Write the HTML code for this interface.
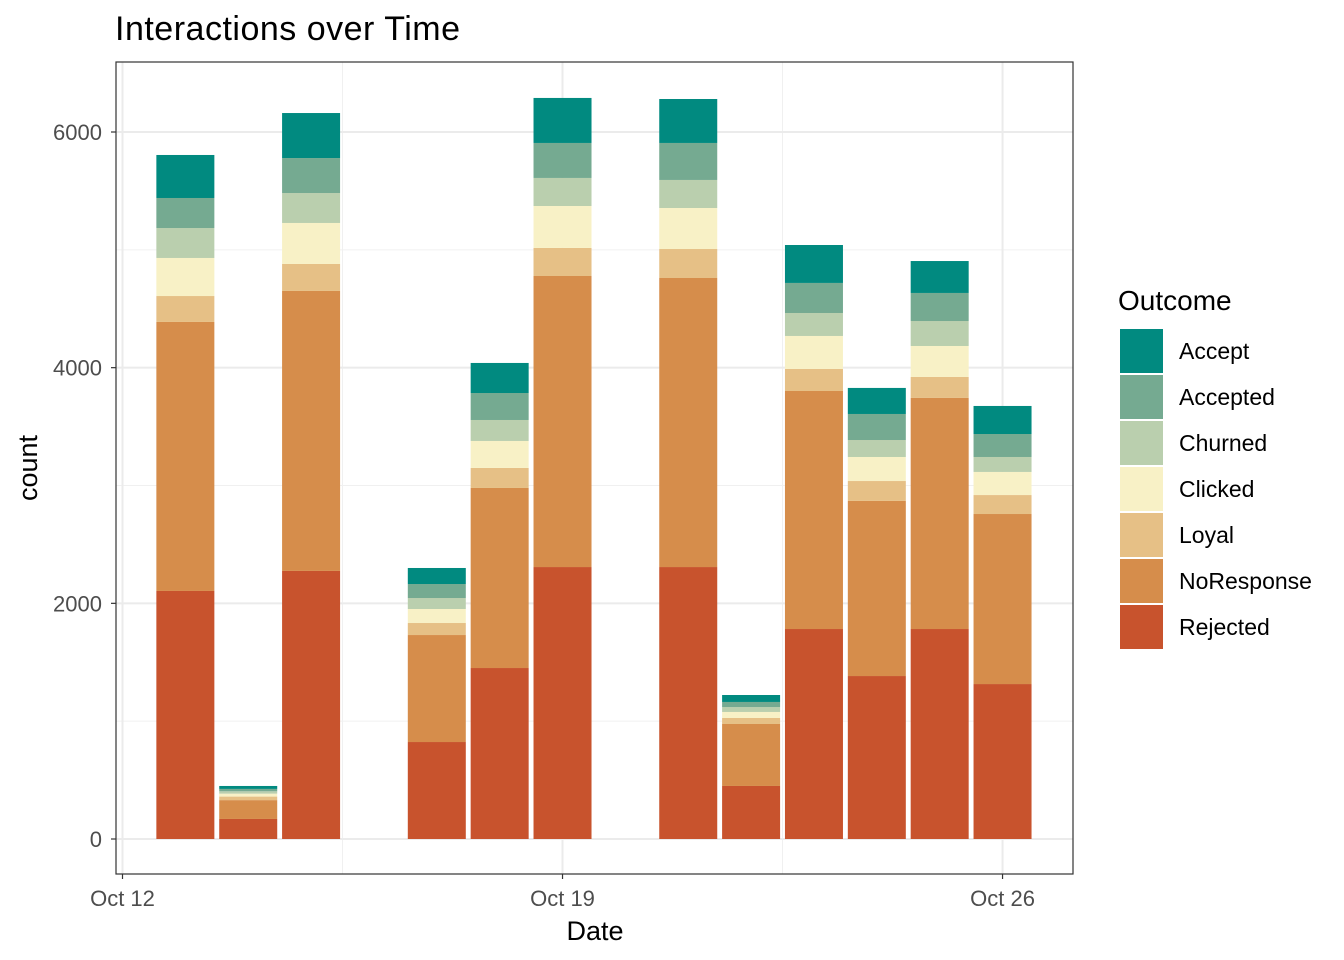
<!DOCTYPE html>
<html><head><meta charset="utf-8"><style>
body{margin:0;background:#fff;}
svg{display:block;font-family:"Liberation Sans",sans-serif;}
</style></head><body>
<svg id="chart" width="1344" height="960">
<rect width="1344" height="960" fill="#fff"/>
<text x="115" y="40" font-size="34" textLength="345" fill="#000">Interactions over Time</text>
<g id="grid"></g>
<g id="bars"></g>
<rect x="116" y="62" width="957" height="812" fill="none" stroke="#333" stroke-width="1.2"/>
<g id="axes"></g>
<text x="595" y="940" font-size="27" text-anchor="middle">Date</text>
<text transform="translate(37,468) rotate(-90)" font-size="27" text-anchor="middle">count</text>
<g id="legend"></g>
</svg>
<script>
const days = [13,14,15,17,18,19,21,22,23,24,25,26];
const outcomes = ["Rejected","NoResponse","Loyal","Clicked","Churned","Accepted","Accept"];
const rejected   = [2105,170,2275,823,1451,2308,2308,450,1782,1383,1782,1315];
const noResponse = [2283,160,2376,908,1528,2470,2453,526,2020,1486,1961,1443];
const loyal      = [220,30,229,102,170,238,246,51,187,169,178,161];
const clicked    = [323,25,348,119,229,356,348,51,280,204,263,196];
const churned    = [254,20,254,93,178,238,238,42,195,144,212,127];
const accepted   = [255,20,297,119,229,297,314,43,255,221,238,195];
const accept     = [365,25,382,136,255,382,373,59,322,221,271,238];
const yTicks = [0,2000,4000,6000];
const yMinor = [1000,3000,5000];
const xTickDays = [12,19,26];
const xTickLabels = ["Oct 12","Oct 19","Oct 26"];
const xMinorDays = [15.5,22.5];
const legendOrder = ["Accept","Accepted","Churned","Clicked","Loyal","NoResponse","Rejected"];

const colors = {Accept:"#018a80",Accepted:"#75aa91",Churned:"#bacfae",Clicked:"#f8f1c6",Loyal:"#e6c086",NoResponse:"#d68d4b",Rejected:"#c8532d"};
const series = [rejected,noResponse,loyal,clicked,churned,accepted,accept];
const NS="http://www.w3.org/2000/svg";
const x = d => 122.5 + (d-12)*62.86;
const y = v => 839 - v*0.117833;
const bw = 58;
function mk(tag, attrs, parent){const e=document.createElementNS(NS,tag);for(const k in attrs)e.setAttribute(k,attrs[k]);parent.appendChild(e);return e;}
const grid=document.getElementById('grid'), bars=document.getElementById('bars'), axes=document.getElementById('axes'), legend=document.getElementById('legend');
mk('rect',{x:116,y:62,width:957,height:812,fill:'#fff'},grid);
yMinor.forEach(v=>{const l=mk('line',{x1:116,x2:1073,y1:y(v),y2:y(v),stroke:'#f0f0f0','stroke-width':1},grid);});
xMinorDays.forEach(d=>{const l=mk('line',{x1:x(d),x2:x(d),y1:62,y2:874,stroke:'#f0f0f0','stroke-width':1},grid);});
yTicks.forEach(v=>{const l=mk('line',{x1:116,x2:1073,y1:y(v),y2:y(v),stroke:'#ebebeb','stroke-width':2},grid);});
xTickDays.forEach(d=>{const l=mk('line',{x1:x(d),x2:x(d),y1:62,y2:874,stroke:'#ebebeb','stroke-width':2},grid);});
days.forEach((d,i)=>{let cum=0;series.forEach((s,j)=>{const v=s[i];const r=mk('rect',{x:x(d)-bw/2,y:y(cum+v),width:bw,height:y(cum)-y(cum+v),fill:colors[outcomes[j]]},bars);cum+=v;});});
yTicks.forEach(v=>{mk('line',{x1:111,x2:116,y1:y(v),y2:y(v),stroke:'#333','stroke-width':1.2},axes);const t=mk('text',{x:102,y:y(v)+8,'font-size':22,fill:'#4d4d4d','text-anchor':'end'},axes);t.textContent=v;});
xTickDays.forEach((d,i)=>{mk('line',{x1:x(d),x2:x(d),y1:874,y2:879,stroke:'#333','stroke-width':1.2},axes);const t=mk('text',{x:x(d),y:906,'font-size':22,fill:'#4d4d4d','text-anchor':'middle'},axes);t.textContent=xTickLabels[i];});
const lt=mk('text',{x:1118,y:310,'font-size':28},legend);lt.textContent='Outcome';
legendOrder.forEach((o,i)=>{const yy=329+i*46;const g=mk('g',{},legend);mk('rect',{x:1120,y:yy,width:43,height:44,fill:colors[o]},g);const t=mk('text',{x:1179,y:yy+30,'font-size':23},g);t.textContent=o;});
</script>
</body></html>
